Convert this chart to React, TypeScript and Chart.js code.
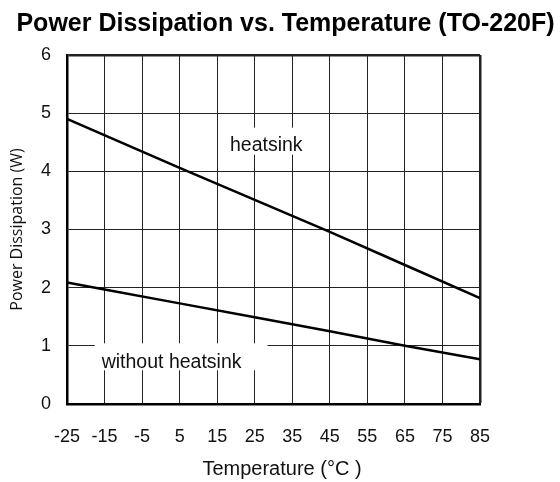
import React, { useEffect, useRef } from 'react';
import { Chart, registerables } from 'chart.js';

Chart.register(...registerables);

// ---- data ----
const chartTitle = 'Power Dissipation vs. Temperature (TO-220F)';
const xAxisTitle = 'Temperature (°C )';
const yAxisTitle = 'Power Dissipation (W)';
const xTickValues = [-25, -15, -5, 5, 15, 25, 35, 45, 55, 65, 75, 85];
const yTickValues = [0, 1, 2, 3, 4, 5, 6];
const heatsinkTemps = [-25, 5, 45, 65, 85];
const heatsinkPower = [4.9, 4.06, 2.96, 2.39, 1.82];
const noHeatsinkTemps = [-25, -15, 5, 25, 45, 65, 85];
const noHeatsinkPower = [2.09, 1.97, 1.73, 1.49, 1.25, 1.0, 0.77];
const curveLabels = ['heatsink', 'without heatsink'];

// label anchor (data units, text left / baseline) and white box padding [top, right, bottom, left] in px
const labelPlacement = [
  { x: 18.4, y: 4.355, pad: [23, 4, 4, 4] },
  { x: -15.76, y: 0.614, pad: [25, 26, 2, 7] },
];

const FONT = '"Liberation Sans", Arial, Helvetica, sans-serif';

const overlayPlugin = {
  id: 'overlay',
  beforeDatasetsDraw(chart: any) {
    const { ctx, scales } = chart;
    const xs = scales.x;
    const ys = scales.y;
    ctx.save();
    ctx.font = `19.5px ${FONT}`;
    ctx.textAlign = 'left';
    ctx.textBaseline = 'alphabetic';
    curveLabels.forEach((text, i) => {
      const p = labelPlacement[i];
      const px = xs.getPixelForValue(p.x);
      const py = ys.getPixelForValue(p.y);
      const w = ctx.measureText(text).width;
      ctx.fillStyle = '#ffffff';
      ctx.fillRect(px - p.pad[3], py - p.pad[0], w + p.pad[3] + p.pad[1], p.pad[0] + p.pad[2]);
      ctx.fillStyle = '#111111';
      ctx.fillText(text, px, py);
    });
    ctx.restore();
  },
  afterDraw(chart: any) {
    const { ctx, chartArea } = chart;
    ctx.save();
    ctx.fillStyle = '#000000';
    ctx.textAlign = 'center';
    ctx.textBaseline = 'alphabetic';
    ctx.font = `bold 25px ${FONT}`;
    ctx.fillText(chartTitle, 285.5, 30.5);
    ctx.fillStyle = '#111111';
    ctx.font = `20px ${FONT}`;
    ctx.fillText(xAxisTitle, (chartArea.left + chartArea.right) / 2 + 8.5, 475);
    ctx.restore();
  },
};

export default function App() {
  const ref = useRef<HTMLCanvasElement | null>(null);

  useEffect(() => {
    if (!ref.current) return;
    const chart = new Chart(ref.current, {
      type: 'line',
      data: {
        datasets: [
          {
            label: curveLabels[0],
            data: heatsinkTemps.map((t, i) => ({ x: t, y: heatsinkPower[i] })),
            borderColor: '#000000',
            borderWidth: 2.5,
            pointRadius: 0,
            tension: 0,
            fill: false,
          },
          {
            label: curveLabels[1],
            data: noHeatsinkTemps.map((t, i) => ({ x: t, y: noHeatsinkPower[i] })),
            borderColor: '#000000',
            borderWidth: 2.5,
            pointRadius: 0,
            tension: 0,
            fill: false,
          },
        ],
      },
      options: {
        responsive: false,
        animation: false,
        layout: { padding: { top: 55, right: 80, bottom: 0, left: 0 } },
        plugins: {
          legend: { display: false },
          title: { display: false },
          tooltip: { enabled: false },
        },
        scales: {
          x: {
            type: 'linear',
            min: xTickValues[0],
            max: xTickValues[xTickValues.length - 1],
            afterBuildTicks: (scale: any) => {
              scale.ticks = xTickValues.map((v) => ({ value: v }));
            },
            afterFit: (scale: any) => {
              scale.height = 78;
            },
            grid: {
              color: '#222222',
              lineWidth: (c: any) => (c.tick && c.tick.value === xTickValues[xTickValues.length - 1] ? 2.5 : 1),
              drawTicks: false,
            },
            border: { display: true, color: '#000000', width: 2.5 },
            ticks: {
              padding: 22,
              maxRotation: 0,
              autoSkip: false,
              color: '#111111',
              font: { family: FONT, size: 18 },
              callback: (v: any) => String(v),
            },
          },
          y: {
            type: 'linear',
            min: yTickValues[0],
            max: yTickValues[yTickValues.length - 1],
            afterBuildTicks: (scale: any) => {
              scale.ticks = yTickValues.map((v) => ({ value: v }));
            },
            afterFit: (scale: any) => {
              scale.width = 67;
            },
            grid: {
              color: '#222222',
              lineWidth: (c: any) => (c.tick && c.tick.value === yTickValues[yTickValues.length - 1] ? 2.5 : 1),
              drawTicks: false,
            },
            border: { display: true, color: '#000000', width: 2.5 },
            ticks: {
              padding: 16,
              color: '#111111',
              font: { family: FONT, size: 18 },
              callback: (v: any) => String(v),
            },
            title: {
              display: true,
              text: yAxisTitle,
              color: '#111111',
              font: { family: '"Open Sans", sans-serif', size: 16 },
              padding: { top: 8, bottom: 0 },
            },
          },
        },
      },
      plugins: [overlayPlugin],
    });
    return () => chart.destroy();
  }, []);

  return (
    <div style={{ position: 'absolute', left: 0, top: 0, width: 560, height: 482, background: '#ffffff' }}>
      <canvas ref={ref} width={560} height={482} />
    </div>
  );
}
